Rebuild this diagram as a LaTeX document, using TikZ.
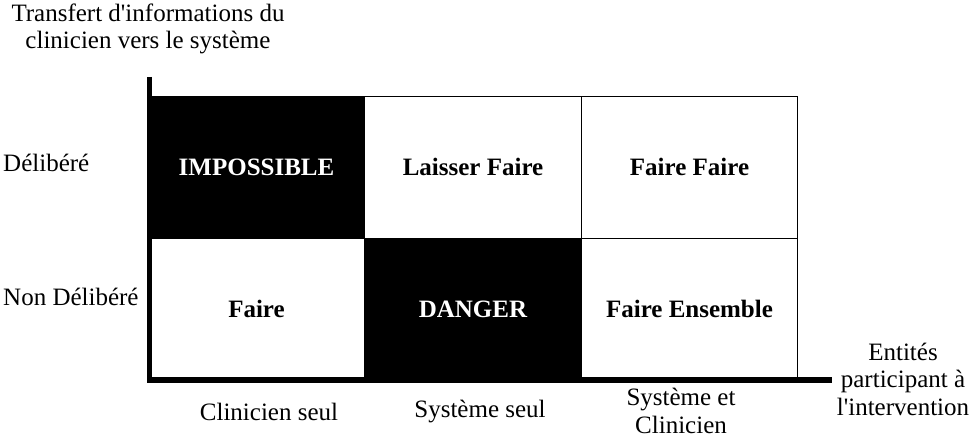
\documentclass[tikz,border=0pt]{standalone}
\usepackage{fontspec}
\setmainfont{Liberation Serif}[Ligatures=TeXOff]
\begin{document}
\begin{tikzpicture}[x=1pt,y=-1pt,
  every node/.style={font=\fontsize{25}{27.5}\selectfont, inner sep=0pt},
  cell/.style={draw=black, line width=0.9pt, minimum width=216.5pt, minimum height=142pt,
    font=\fontsize{25}{27.5}\selectfont\bfseries},
  dark/.style={cell, fill=black, text=white},
  lab/.style={align=center},
  axis/.style={line width=5pt, draw=black}]
\useasboundingbox (0,0) rectangle (976,443);
% cells
\node[dark] (impossible) at (256.5,167) {IMPOSSIBLE};
\node[cell] (laisser) at (473,167) {Laisser Faire};
\node[cell] (fairefaire) at (689.5,167) {Faire Faire};
\node[cell] (faire) at (256.5,309) {Faire};
\node[dark] (danger) at (473,309) {DANGER};
\node[cell] (ensemble) at (689.5,309) {Faire Ensemble};
% axes
\coordinate (vtop) at (149.5,77);
\coordinate (orig) at (149.5,380);
\coordinate (hend) at (832,380);
\draw[axis, line width=4.5pt] (vtop) -- ([yshift=-2.5pt]orig);
\draw[axis, line width=5.5pt] ([xshift=-2.5pt]orig) -- (hend);
% labels
\node[lab] (ylab) at (148,29) {Transfert d'informations du\\clinicien vers le système};
\node[anchor=west] (d1) at (3,163) {Délibéré};
\node[anchor=west] (d2) at (3,297) {Non Délibéré};
\node (c1) at (269,412) {Clinicien seul};
\node (c2) at (480,412) {Système seul};
\node[lab] (c3) at (681,411) {Système et\\Clinicien};
\node[lab] (xlab) at (903,379) {Entités\\participant à\\l'intervention};
\end{tikzpicture}
\end{document}
